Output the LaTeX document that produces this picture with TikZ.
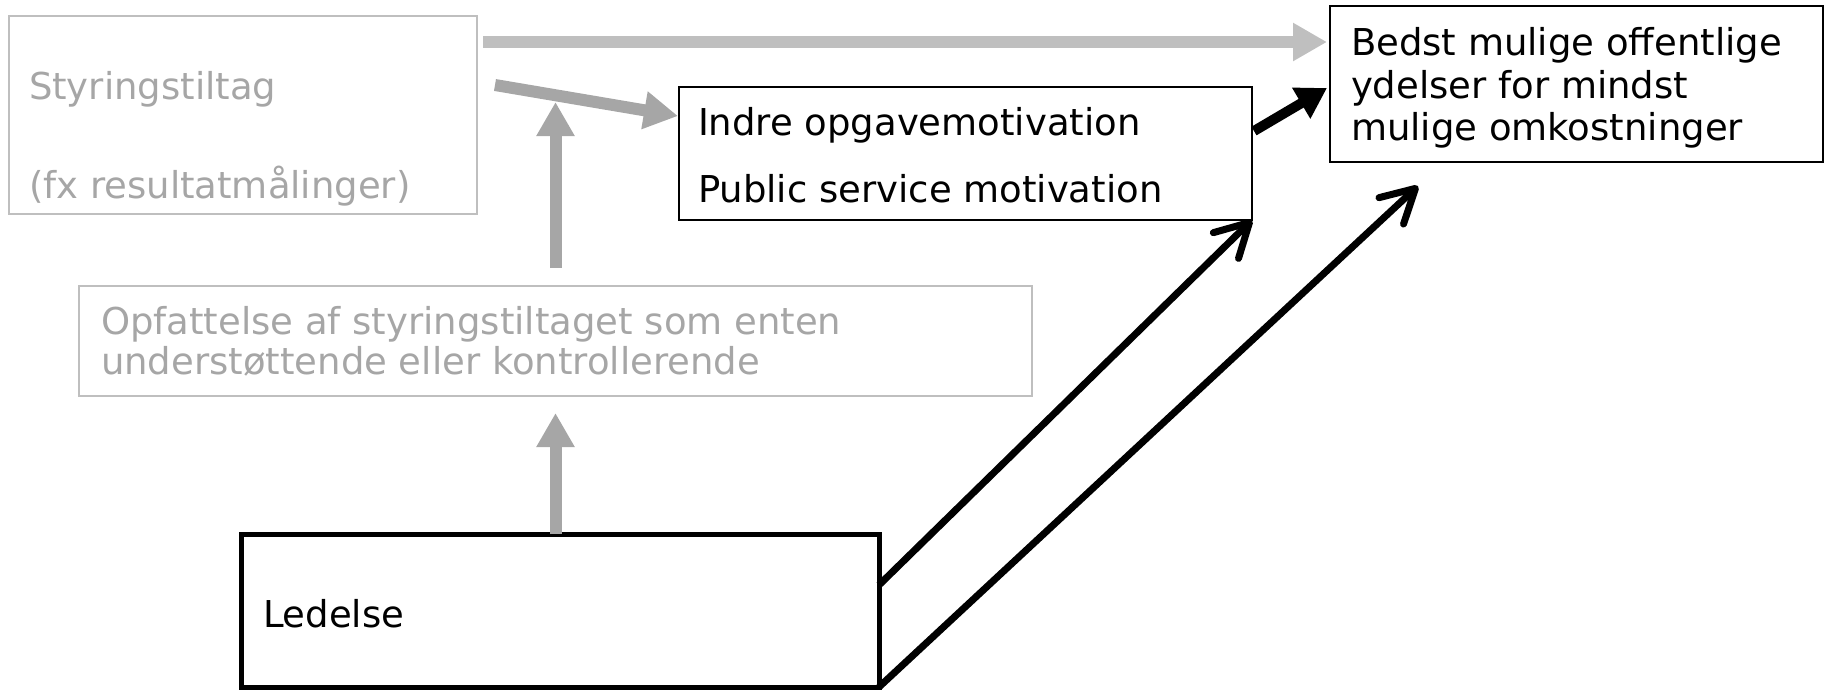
\documentclass[tikz,border=0pt]{standalone}
\usepackage{fontspec}
\setmainfont{DejaVu Sans}
\usetikzlibrary{arrows.meta,calc}
\definecolor{boxgray}{HTML}{BFBFBF}
\definecolor{textgray}{HTML}{A6A6A6}
\definecolor{arrowlight}{HTML}{BFBFBF}
\definecolor{arrowdark}{HTML}{A6A6A6}
\begin{document}
\begin{tikzpicture}[x=1pt,y=-1pt,
  every node/.style={font=\fontsize{37}{42}\selectfont},
  box/.style={draw, rectangle, inner sep=0pt, outer sep=0pt, anchor=north west},
  gbox/.style={box, draw=boxgray, line width=2pt},
  bbox/.style={box, draw=black, line width=2pt},
  heavybox/.style={box, draw=black, line width=5pt},
  txt/.style={anchor=base west, inner sep=0pt, outer sep=0pt},
  gtxt/.style={txt, text=textgray},
  lightarrow/.style={draw=arrowlight, line width=12pt, -{Triangle[length=34pt,width=36pt]}},
  darkarrow/.style={draw=arrowdark, line width=12pt, -{Triangle[length=34pt,width=36pt]}},
  thinarrow/.style={draw=black, line width=7pt, -{Straight Barb[length=33pt,width=36pt,round]}},
  thickarrow/.style={draw=black, line width=10pt, -{Triangle[length=30pt,width=34pt]}},
]
\useasboundingbox (0,0) rectangle (1825,689);

% boxes
\node[gbox, minimum width=468pt, minimum height=198pt] (A) at (9,16) {};
\node[bbox, minimum width=493pt, minimum height=156pt] (B) at (1330,6) {};
\node[bbox, minimum width=573pt, minimum height=133pt] (C) at (679,87) {};
\node[gbox, minimum width=953pt, minimum height=110pt] (D) at (79,286) {};
\node[heavybox, minimum width=638pt, minimum height=153pt] (E) at (241,534) {};

% texts
\node[gtxt] (A1) at (29,99) {Styringstiltag};
\node[gtxt] (A2) at (29,198) {(fx resultatmålinger)};
\node[txt] (B1) at (1351,55) {Bedst mulige offentlige};
\node[txt] (B2) at (1351,98) {ydelser for mindst};
\node[txt] (B3) at (1351,140) {mulige omkostninger};
\node[txt] (C1) at (698,135) {Indre opgavemotivation};
\node[txt] (C2) at (698,202) {Public service motivation};
\node[gtxt] (D1) at (101,334) {Opfattelse af styringstiltaget som enten};
\node[gtxt] (D2) at (101,374) {understøttende eller kontrollerende};
\node[txt] (E1) at (263,627) {Ledelse};

% connectors
\draw[lightarrow] ([xshift=6pt]A.east |- 0,42) -- ([xshift=-3pt]B.west |- 0,42);
\draw[darkarrow] ([xshift=18pt]A.east |- 0,85) -- ([xshift=-1pt]C.west |- 0,116);
\draw[darkarrow] ([yshift=18pt]D.north) -- (D.north |- 0,102);
\draw[darkarrow] (D.south |- E.north) -- ([yshift=-17pt]D.south);
\draw[thinarrow] ([yshift=-51pt]E.north east) -- (C.south east);
\draw[thinarrow] (E.south east) -- ($(B.south west)+(88,24)$);
\draw[thickarrow] ($(C.north east)+(2,44)$) -- ($(B.north west)+(-3,82)$);
\end{tikzpicture}
\end{document}
